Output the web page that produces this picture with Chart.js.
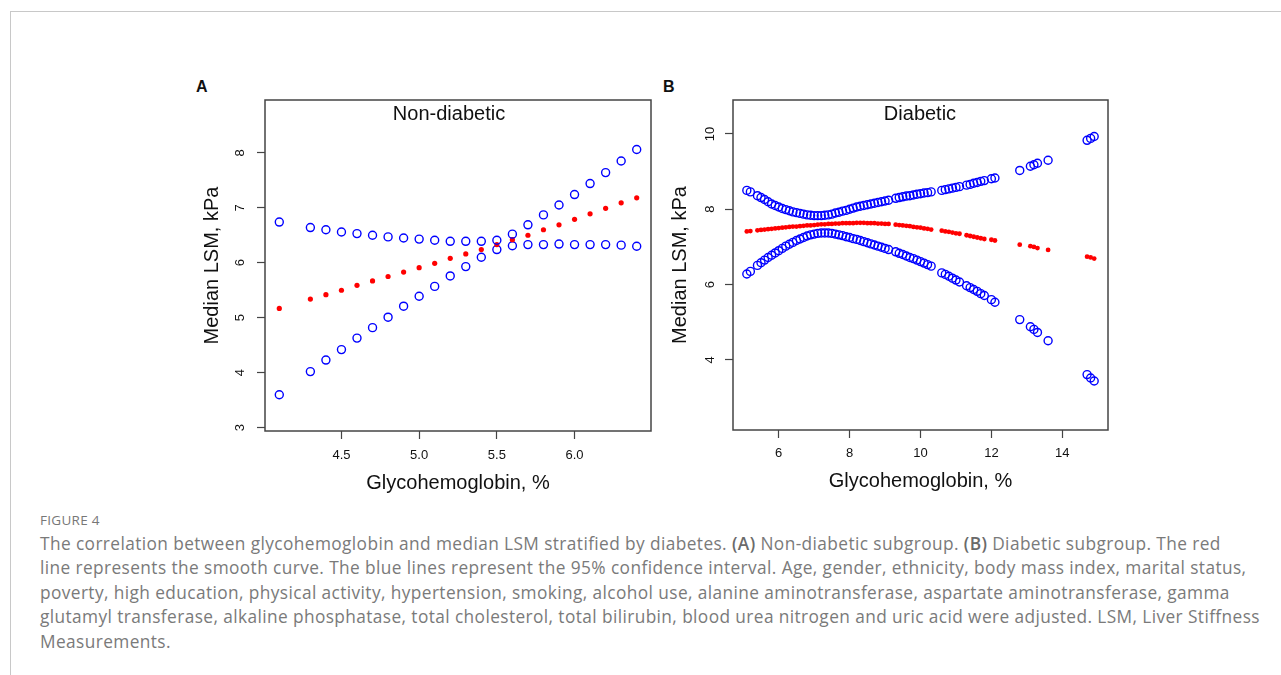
<!DOCTYPE html>
<html>
<head>
<meta charset="utf-8">
<title>Figure 4</title>
<script src="https://cdn.jsdelivr.net/npm/chart.js@4.4.1/dist/chart.umd.min.js"></script>
<style>
	html, body { margin: 0; padding: 0; background: #fff; }
	body { width: 1281px; height: 675px; position: relative; overflow: hidden; font-family: "Liberation Sans", Arial, sans-serif; }
	.card { position: absolute; left: 10px; top: 11px; right: -2px; bottom: -2px; border-top: 1px solid #c8c8c8; border-left: 1px solid #c8c8c8; }
	canvas { position: absolute; }
	.panel-letter { position: absolute; font-weight: bold; font-size: 16px; color: #111; }
	.panel-title { position: absolute; font-size: 20px; color: #111; transform: translateX(-50%); white-space: nowrap; }
	.fig-label { position: absolute; left: 40px; top: 511px; font-family: "Open Sans", sans-serif; font-size: 13.5px; color: #777; letter-spacing: 0.3px; }
	.caption { position: absolute; left: 40px; top: 532px; font-family: "Open Sans", sans-serif; font-size: 17.3px; letter-spacing: 0.4px; line-height: 24.4px; color: #7a7a7a; white-space: nowrap; }
	.caption b { font-weight: 600; color: #6a6a6a; }
</style>
</head>
<body>
<div class="card"></div>
<div class="panel-letter" style="left:196px; top:78px;">A</div>
<div class="panel-letter" style="left:663px; top:78px;">B</div>
<canvas id="chartA" width="490" height="430" style="left:170px; top:70px;"></canvas>
<canvas id="chartB" width="465" height="430" style="left:655px; top:70px;"></canvas>
<div class="panel-title" style="left:449px; top:102px;">Non-diabetic</div>
<div class="panel-title" style="left:920px; top:102px;">Diabetic</div>
<div class="fig-label">FIGURE 4</div>
<div class="caption">The correlation between glycohemoglobin and median LSM stratified by diabetes. <b>(A)</b> Non-diabetic subgroup. <b>(B)</b> Diabetic subgroup. The red<br>line represents the smooth curve. The blue lines represent the 95% confidence interval. Age, gender, ethnicity, body mass index, marital status,<br>poverty, high education, physical activity, hypertension, smoking, alcohol use, alanine aminotransferase, aspartate aminotransferase, gamma<br>glutamyl transferase, alkaline phosphatase, total cholesterol, total bilirubin, blood urea nitrogen and uric acid were adjusted. LSM, Liver Stiffness<br>Measurements.</div>
<script>
// Panel A: non-diabetic
const xA = [4.1, 4.3, 4.4, 4.5, 4.6, 4.7, 4.8, 4.9, 5.0, 5.1, 5.2, 5.3, 5.4, 5.5, 5.6, 5.7, 5.8, 5.9, 6.0, 6.1, 6.2, 6.3, 6.4];
const upperA = [6.74, 6.64, 6.60, 6.56, 6.53, 6.50, 6.47, 6.45, 6.43, 6.41, 6.39, 6.39, 6.39, 6.41, 6.52, 6.69, 6.87, 7.05, 7.24, 7.44, 7.64, 7.85, 8.06];
const fitA = [5.17, 5.34, 5.42, 5.50, 5.59, 5.67, 5.75, 5.83, 5.91, 5.99, 6.08, 6.16, 6.24, 6.33, 6.42, 6.50, 6.60, 6.69, 6.79, 6.89, 6.99, 7.09, 7.18];
const lowerA = [3.60, 4.02, 4.23, 4.42, 4.63, 4.82, 5.01, 5.21, 5.39, 5.57, 5.76, 5.93, 6.10, 6.24, 6.31, 6.33, 6.33, 6.34, 6.33, 6.33, 6.33, 6.32, 6.30];
const xTicksA = [4.5, 5.0, 5.5, 6.0];
const yTicksA = [3, 4, 5, 6, 7, 8];

// Panel B: diabetic
const xB = [5.1, 5.2,
	5.4, 5.5, 5.6, 5.7, 5.8, 5.9, 6.0, 6.1, 6.2, 6.3, 6.4, 6.5,
	6.6, 6.7, 6.8, 6.9, 7.0, 7.1, 7.2, 7.3, 7.4, 7.5,
	7.6, 7.7, 7.8, 7.9, 8.0, 8.1, 8.2, 8.3, 8.4, 8.5,
	8.6, 8.7, 8.8, 8.9, 9.0, 9.1,
	9.3, 9.4, 9.5, 9.6, 9.7, 9.8, 9.9, 10.0, 10.1, 10.2, 10.3,
	10.6, 10.7, 10.8, 10.9, 11.0, 11.1,
	11.3, 11.4, 11.5, 11.6, 11.7, 11.8,
	12.0, 12.1,
	12.8, 13.1, 13.2, 13.3, 13.6, 14.7, 14.8, 14.9];
const upperB = [8.50, 8.46,
	8.36, 8.31, 8.26, 8.20, 8.14, 8.10, 8.06, 8.02, 7.99, 7.96, 7.93, 7.91,
	7.89, 7.87, 7.85, 7.84, 7.83, 7.83, 7.83, 7.84, 7.85, 7.87,
	7.90, 7.92, 7.95, 7.97, 8.00, 8.03, 8.06, 8.08, 8.10, 8.12,
	8.14, 8.16, 8.18, 8.20, 8.22, 8.24,
	8.29, 8.31, 8.33, 8.35, 8.36, 8.38, 8.40, 8.41, 8.43, 8.44, 8.46,
	8.50, 8.52, 8.54, 8.56, 8.58, 8.60,
	8.64, 8.66, 8.69, 8.71, 8.74, 8.76,
	8.81, 8.83,
	9.03, 9.14, 9.18, 9.22, 9.30, 9.83, 9.88, 9.93];
const fitB = [7.41, 7.42,
	7.44, 7.45, 7.46, 7.47, 7.48, 7.49, 7.50, 7.51, 7.52, 7.53, 7.54, 7.54,
	7.55, 7.56, 7.57, 7.57, 7.58, 7.59, 7.60, 7.60, 7.61, 7.61,
	7.62, 7.62, 7.63, 7.63, 7.63, 7.63, 7.64, 7.64, 7.64, 7.63,
	7.63, 7.63, 7.62, 7.62, 7.61, 7.61,
	7.59, 7.58, 7.57, 7.56, 7.55, 7.53, 7.52, 7.51, 7.49, 7.48, 7.46,
	7.43, 7.41, 7.40, 7.38, 7.36, 7.35,
	7.31, 7.29, 7.27, 7.25, 7.23, 7.21,
	7.19, 7.17,
	7.06, 7.02, 7.00, 6.97, 6.92, 6.74, 6.72, 6.69];
const lowerB = [6.28, 6.35,
	6.51, 6.58, 6.65, 6.72, 6.78, 6.84, 6.90, 6.96, 7.02, 7.07, 7.12, 7.17,
	7.21, 7.25, 7.29, 7.32, 7.34, 7.36, 7.37, 7.37, 7.37, 7.36,
	7.34, 7.32, 7.30, 7.27, 7.25, 7.22, 7.20, 7.17, 7.14, 7.11,
	7.08, 7.05, 7.02, 6.99, 6.96, 6.93,
	6.87, 6.83, 6.80, 6.76, 6.72, 6.69, 6.65, 6.61, 6.57, 6.53, 6.49,
	6.31, 6.27, 6.22, 6.17, 6.12, 6.07,
	5.97, 5.92, 5.87, 5.82, 5.76, 5.71,
	5.60, 5.53,
	5.07, 4.88, 4.81, 4.73, 4.51, 3.61, 3.52, 3.44];
const xTicksB = [6, 8, 10, 12, 14];
const yTicksB = [4, 6, 8, 10];

(() => {
	'use strict'

	const axisColor = '#444';
	const tickFont = { family: '"Liberation Sans", Arial, sans-serif', size: 13 };
	const titleFont = { family: '"Liberation Sans", Arial, sans-serif', size: 20 };

	// R-style box round the plot region
	const boxPlugin = {
		id: 'plotBox',
		afterDraw(chart) {
			const { ctx, chartArea } = chart;
			ctx.save();
			ctx.strokeStyle = axisColor;
			ctx.lineWidth = 1.5;
			ctx.strokeRect(chartArea.left, chartArea.top, chartArea.right - chartArea.left, chartArea.bottom - chartArea.top);
			ctx.restore();
		}
	};

	function toPoints(xs, ys) {
		return xs.map((x, i) => ({ x: x, y: ys[i] }));
	}

	function ciDataset(xs, ys) {
		return {
			data: toPoints(xs, ys),
			pointStyle: 'circle',
			pointRadius: 4,
			pointBorderWidth: 1.4,
			pointBorderColor: '#0000ff',
			pointBackgroundColor: 'rgba(0,0,0,0)',
			showLine: false
		};
	}

	function fitDataset(xs, ys, radius) {
		return {
			data: toPoints(xs, ys),
			pointStyle: 'circle',
			pointRadius: radius,
			pointBorderWidth: 0,
			pointBackgroundColor: '#ff0000',
			pointBorderColor: '#ff0000',
			showLine: false
		};
	}

	function makePanel(canvas, cfg) {
		return new Chart(canvas, {
			type: 'scatter',
			data: {
				datasets: [
					ciDataset(cfg.x, cfg.upper),
					fitDataset(cfg.x, cfg.fit, cfg.fitRadius),
					ciDataset(cfg.x, cfg.lower)
				]
			},
			plugins: [boxPlugin],
			options: {
				responsive: false,
				animation: false,
				devicePixelRatio: 1,
				layout: {
					padding: { left: 0, top: 30, right: cfg.padRight, bottom: 0 }
				},
				plugins: {
					legend: { display: false },
					tooltip: { enabled: false }
				},
				scales: {
					x: {
						type: 'linear',
						min: cfg.xMin,
						max: cfg.xMax,
						afterBuildTicks: (scale) => {
							scale.ticks = cfg.xTicks.map((value) => ({ value: value }));
						},
						afterFit: (scale) => {
							scale.height = cfg.xAxisHeight;
						},
						border: { display: false },
						grid: {
							drawOnChartArea: false,
							drawTicks: true,
							tickLength: 8,
							tickWidth: 1.2,
							color: axisColor
						},
						ticks: {
							color: '#111',
							font: tickFont,
							padding: cfg.xTickPad,
							maxRotation: 0,
							callback: cfg.xFormat
						},
						title: {
							display: true,
							text: 'Glycohemoglobin, %',
							color: '#111',
							font: titleFont,
							padding: { top: 0, bottom: cfg.xTitlePad }
						}
					},
					y: {
						type: 'linear',
						min: cfg.yMin,
						max: cfg.yMax,
						afterBuildTicks: (scale) => {
							scale.ticks = cfg.yTicks.map((value) => ({ value: value }));
						},
						afterFit: (scale) => {
							scale.width = cfg.yAxisWidth;
						},
						border: { display: false },
						grid: {
							drawOnChartArea: false,
							drawTicks: true,
							tickLength: 8,
							tickWidth: 1.2,
							color: axisColor
						},
						ticks: {
							color: '#111',
							font: tickFont,
							padding: cfg.yTickPad,
							minRotation: 90,
							maxRotation: 90,
							crossAlign: 'center',
							callback: (value) => String(value)
						},
						title: {
							display: true,
							text: 'Median LSM, kPa',
							color: '#111',
							font: titleFont,
							padding: { top: cfg.yTitlePad, bottom: 0 }
						}
					}
				}
			}
		});
	}

	makePanel(document.getElementById('chartA'), {
		x: xA, upper: upperA, fit: fitA, lower: lowerA, fitRadius: 2.6,
		xMin: 4.008, xMax: 6.492, yMin: 2.94, yMax: 8.96,
		xTicks: xTicksA, yTicks: yTicksA,
		xFormat: (value) => value.toFixed(1),
		padRight: 9, xAxisHeight: 69, yAxisWidth: 95,
		xTickPad: 9, yTickPad: 13, xTitlePad: 5, yTitlePad: 30
	});

	makePanel(document.getElementById('chartB'), {
		x: xB, upper: upperB, fit: fitB, lower: lowerB, fitRadius: 2.4,
		xMin: 4.71, xMax: 15.29, yMin: 2.14, yMax: 10.9,
		xTicks: xTicksB, yTicks: yTicksB,
		xFormat: (value) => String(value),
		padRight: 12, xAxisHeight: 70, yAxisWidth: 78,
		xTickPad: 8, yTickPad: 7, xTitlePad: 7, yTitlePad: 13
	});
})()
</script>
</body>
</html>
